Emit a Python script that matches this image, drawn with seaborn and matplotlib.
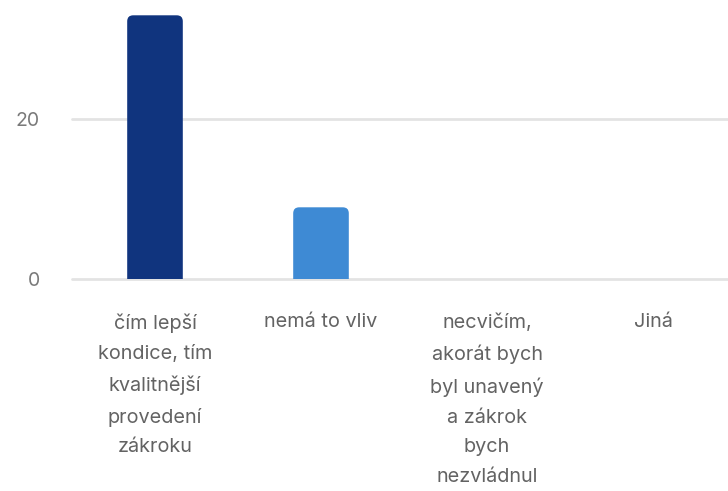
import matplotlib
matplotlib.use("Agg")
import matplotlib.pyplot as plt
from matplotlib.patches import FancyBboxPatch
import seaborn as sns
import pandas as pd

# Survey answers (wrapped as they appear under each bar) and response counts
categories = [
    "čím lepší\nkondice, tím\nkvalitnější\nprovedení\nzákroku",
    "nemá to vliv",
    "necvičím,\nakorát bych\nbyl unavený\na zákrok\nbych\nnezvládnul",
    "Jiná",
]
counts = [33, 9, 0, 0]
bar_colors = ["#10347e", "#3e8ad4", "#6fb0e8", "#a8cdf0"]
y_ticks = [0, 20]

sns.set_theme(style="white")
plt.rcParams["font.family"] = ["Inter", "DejaVu Sans"]

df = pd.DataFrame({"answer": categories, "count": counts})

fig = plt.figure(figsize=(7.28, 4.91), dpi=100)
# axes spans past the right edge so the last category column is cut like a panel
ax = fig.add_axes([72 / 728, 1 - 279.3 / 491, 664 / 728, 280 / 491])

sns.barplot(data=df, x="answer", y="count", hue="answer", palette=bar_colors,
            legend=False, width=0.335, ax=ax, saturation=1)

ax.set_ylim(0, 35)
ax.set_xlim(-0.5, 3.5)
ax.set_yticks(y_ticks)
ax.grid(axis="y", color="#e3e3e3", linewidth=2)
for gl in ax.get_ygridlines():
    gl.set_clip_on(False)
ax.set_axisbelow(True)
for s in ax.spines.values():
    s.set_visible(False)
ax.set_xlabel("")
ax.set_ylabel("")
ax.tick_params(axis="y", length=0, pad=23, labelsize=14, labelcolor="#7a7a7a")
ax.tick_params(axis="x", length=0, pad=24.5, labelsize=14.3, labelcolor="#636363")
for lbl in ax.get_xticklabels():
    lbl.set_linespacing(1.84)
    lbl.set_verticalalignment("top")

# rounded tops for the bars
px_per_x = 166.0
px_per_y = 8.0
radius = 6 / px_per_x
for p in list(ax.patches):
    h = p.get_height()
    if h <= 0:
        p.remove()
        continue
    x0, w = p.get_x(), p.get_width()
    rp = FancyBboxPatch((x0, -2), w, h + 2,
                        boxstyle=f"round,pad=0,rounding_size={radius}",
                        mutation_aspect=px_per_x / px_per_y,
                        facecolor=p.get_facecolor(), edgecolor="none",
                        clip_on=True, zorder=p.get_zorder())
    p.remove()
    ax.add_patch(rp)

fig.savefig("out.png", dpi=100, facecolor="white")
